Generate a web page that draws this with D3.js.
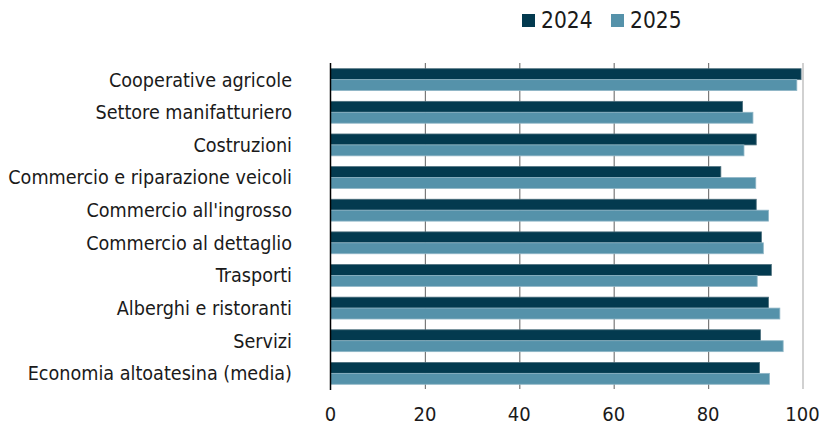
<!DOCTYPE html>
<html>
<head>
<meta charset="utf-8">
<script src="https://cdn.jsdelivr.net/npm/d3@7.9.0/dist/d3.min.js"></script>
<style>
  body { margin: 0; background: #fff; }
  svg text { font-family: "DejaVu Sans Condensed", "Liberation Sans Narrow", sans-serif; fill: #1a1a1a; }
</style>
</head>
<body>
<svg id="chart" width="822" height="430"></svg>
<script>
const categories = [
  'Cooperative agricole',
  'Settore manifatturiero',
  'Costruzioni',
  'Commercio e riparazione veicoli',
  "Commercio all'ingrosso",
  'Commercio al dettaglio',
  'Trasporti',
  'Alberghi e ristoranti',
  'Servizi',
  'Economia altoatesina (media)'
];
const values2024 = [99.7, 87.3, 90.2, 82.7, 90.2, 91.3, 93.4, 92.8, 91.1, 90.9];
const values2025 = [98.8, 89.5, 87.6, 90.1, 92.8, 91.7, 90.4, 95.2, 95.9, 93.0];
const seriesNames = ['2024', '2025'];
const xTicks = [0, 20, 40, 60, 80, 100];

const colors = ['#033a4f', '#5592aa'];

const svg = d3.select('#chart');
const margin = { top: 63, left: 330.5, right: 19.5, bottom: 40 };
const width = 822;
const height = 430;

const x = d3.scaleLinear().domain([0, 100]).range([margin.left, width - margin.right]);
const y = d3.scaleBand().domain(categories).range([margin.top, height - margin.bottom]).paddingInner(0.33).paddingOuter(0.175);
const ySub = d3.scaleBand().domain(seriesNames).range([0, y.bandwidth()]);

// gridlines
svg.append('g')
  .selectAll('line')
  .data(xTicks.filter((t) => t > 0))
  .join('line')
  .attr('x1', (d) => x(d) + 0.5)
  .attr('x2', (d) => x(d) + 0.5)
  .attr('y1', margin.top)
  .attr('y2', height - margin.bottom - 1)
  .attr('stroke', (d) => (d === 100 ? '#b3b3b3' : '#7a7a7a'))
  .attr('stroke-width', 1.2);

const rows = categories.map((c, i) => ({ cat: c, vals: [values2024[i], values2025[i]] }));

const groups = svg.append('g')
  .selectAll('g')
  .data(rows)
  .join('g')
  .attr('transform', (d) => `translate(0,${y(d.cat)})`);

groups.selectAll('rect')
  .data((d) => d.vals.map((v, k) => ({ v, k })))
  .join('rect')
  .attr('x', x(0))
  .attr('y', (d) => ySub(seriesNames[d.k]))
  .attr('width', (d) => x(d.v) - x(0))
  .attr('height', ySub.bandwidth())
  .attr('fill', (d) => colors[d.k])
  .attr('stroke', (d) => (d.k === 0 ? '#4d6f7d' : '#8fb6c6'))
  .attr('stroke-width', 0.8);

// zero axis line
svg.append('line')
  .attr('x1', x(0))
  .attr('x2', x(0))
  .attr('y1', margin.top)
  .attr('y2', height - margin.bottom)
  .attr('stroke', '#000')
  .attr('stroke-width', 1.5);

// category labels
svg.append('g')
  .selectAll('text')
  .data(categories)
  .join('text')
  .attr('x', 292)
  .attr('y', (d) => y(d) + y.bandwidth() / 2)
  .attr('dy', '0.35em')
  .attr('text-anchor', 'end')
  .style('font-size', '19.6px')
  .text((d) => d);

// x axis labels
svg.append('g')
  .selectAll('text')
  .data(xTicks)
  .join('text')
  .attr('x', (d) => x(d))
  .attr('y', 421)
  .attr('text-anchor', 'middle')
  .style('font-size', '20px')
  .text((d) => d);

// legend
const legend = svg.append('g').attr('transform', 'translate(522,14)');
seriesNames.forEach((name, i) => {
  const g = legend.append('g').attr('transform', `translate(${i * 89},0)`);
  g.append('rect').attr('width', 13).attr('height', 13).attr('fill', colors[i]);
  g.append('text').attr('x', 19).attr('y', 14).style('font-size', '22.5px').text(name);
});
</script>
</body>
</html>
